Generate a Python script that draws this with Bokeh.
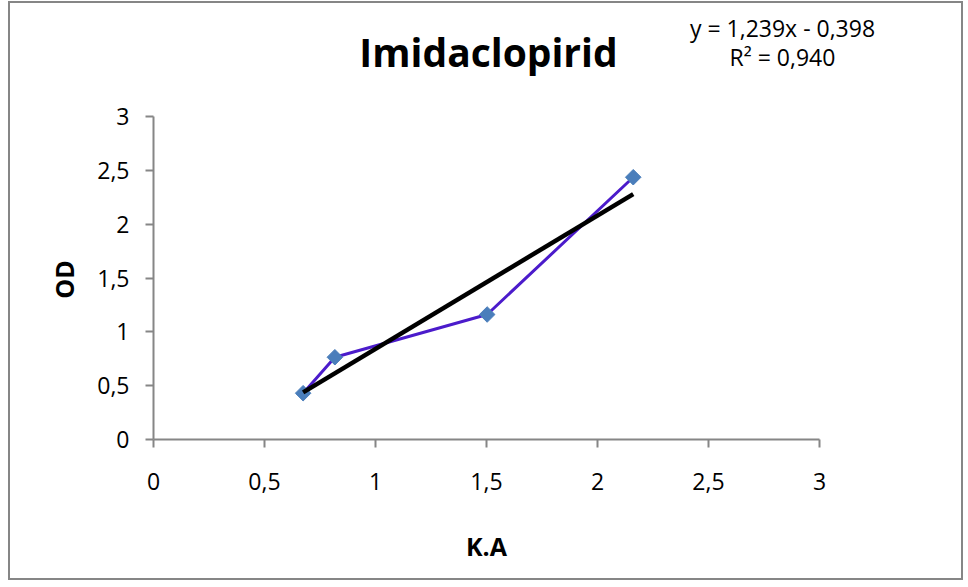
from bokeh.plotting import figure
from bokeh.models import Range1d, FixedTicker, Label
from bokeh.embed import file_html
from bokeh.resources import INLINE
from math import pi

# ---- data ----
ka = [0.674, 0.817, 1.503, 2.161]
od = [0.430, 0.764, 1.161, 2.436]
trend_slope = 1.239
trend_intercept = -0.398
r_squared = 0.940
x_ticks = [0, 0.5, 1, 1.5, 2, 2.5, 3]
x_tick_labels = ["0", "0,5", "1", "1,5", "2", "2,5", "3"]
y_ticks = [0, 0.5, 1, 1.5, 2, 2.5, 3]
y_tick_labels = ["0", "0,5", "1", "1,5", "2", "2,5", "3"]
title_text = "Imidaclopirid"
x_label = "K.A"
y_label = "OD"

# ---- layout (pixels on the page) ----
FONT = "Open Sans"
GRAY = "#868686"
CANVAS_L, CANVAS_T = 10, 3
W, H = 955, 579
AX_L, AX_R, AX_T, AX_B = 153, 819, 116, 439
px_per_x = (AX_R - AX_L) / (x_ticks[-1] - x_ticks[0])
px_per_y = (AX_B - AX_T) / (y_ticks[-1] - y_ticks[0])

def dx(px):
    return x_ticks[0] + (px - AX_L) / px_per_x

def dy(py):
    return y_ticks[0] + (AX_B - py) / px_per_y

p = figure(width=W, height=H, output_backend="svg", toolbar_location=None,
           x_range=Range1d(dx(CANVAS_L), dx(CANVAS_L + W)),
           y_range=Range1d(dy(CANVAS_T + H), dy(CANVAS_T)),
           title_location=None,
           min_border_left=0, min_border_right=0, min_border_top=0, min_border_bottom=0)
p.styles = {"border": f"2px solid {GRAY}", "margin-left": "8px", "margin-top": "1px"}

p.outline_line_color = None
p.xgrid.visible = False
p.ygrid.visible = False

for ax, ticks, labels, other in ((p.xaxis, x_ticks, x_tick_labels, y_ticks),
                                 (p.yaxis, y_ticks, y_tick_labels, x_ticks)):
    ax.fixed_location = other[0]
    ax.ticker = FixedTicker(ticks=ticks)
    ax.bounds = (ticks[0], ticks[-1])
    ax.major_label_overrides = {t: l for t, l in zip(ticks, labels)}
    ax.axis_line_color = GRAY
    ax.axis_line_width = 2
    ax.major_tick_line_color = GRAY
    ax.major_tick_line_width = 2
    ax.major_tick_in = 0
    ax.major_tick_out = 8
    ax.minor_tick_line_color = None
    ax.major_label_text_font = FONT
    ax.major_label_text_font_size = "23px"
    ax.major_label_text_color = "black"

p.xaxis.major_label_standoff = 25
p.yaxis.major_label_standoff = 16

# axis titles
p.add_layout(Label(x=dx(63), y=dy(279), text=y_label, angle=pi / 2,
                   text_align="center", text_baseline="middle", text_font=FONT,
                   text_font_size="25px", text_font_style="bold", text_color="black"))
p.add_layout(Label(x=dx(486), y=dy(545), text=x_label,
                   text_align="center", text_baseline="middle", text_font=FONT,
                   text_font_size="25px", text_font_style="bold", text_color="black"))

# series
p.line(ka, od, line_color="#4B1BCB", line_width=3)
p.scatter(ka, od, marker="square", angle=pi / 4, size=11,
          fill_color="#4A7EBB", line_color="#4A7EBB")

# linear trendline
tx = [min(ka), max(ka)]
ty = [trend_slope * x + trend_intercept for x in tx]
p.line(tx, ty, line_color="black", line_width=4.5)

# title
p.add_layout(Label(x=dx(488), y=dy(50.5), text=title_text, text_align="center",
                   text_baseline="middle", text_font=FONT, text_font_size="39px",
                   text_font_style="bold", text_color="black"))

def fmt(v):
    return f"{v:.3f}".replace(".", ",")

sign = "-" if trend_intercept < 0 else "+"
eq1 = f"y = {fmt(trend_slope)}x {sign} {fmt(abs(trend_intercept))}"
eq2 = f"R² = {fmt(r_squared)}"
p.add_layout(Label(x=dx(782), y=dy(27), text=eq1, text_align="center",
                   text_baseline="middle", text_font=FONT, text_font_size="23px",
                   text_color="black"))
p.add_layout(Label(x=dx(782), y=dy(56), text=eq2, text_align="center",
                   text_baseline="middle", text_font=FONT, text_font_size="23px",
                   text_color="black"))

open("out.html", "w").write(file_html(p, INLINE))
